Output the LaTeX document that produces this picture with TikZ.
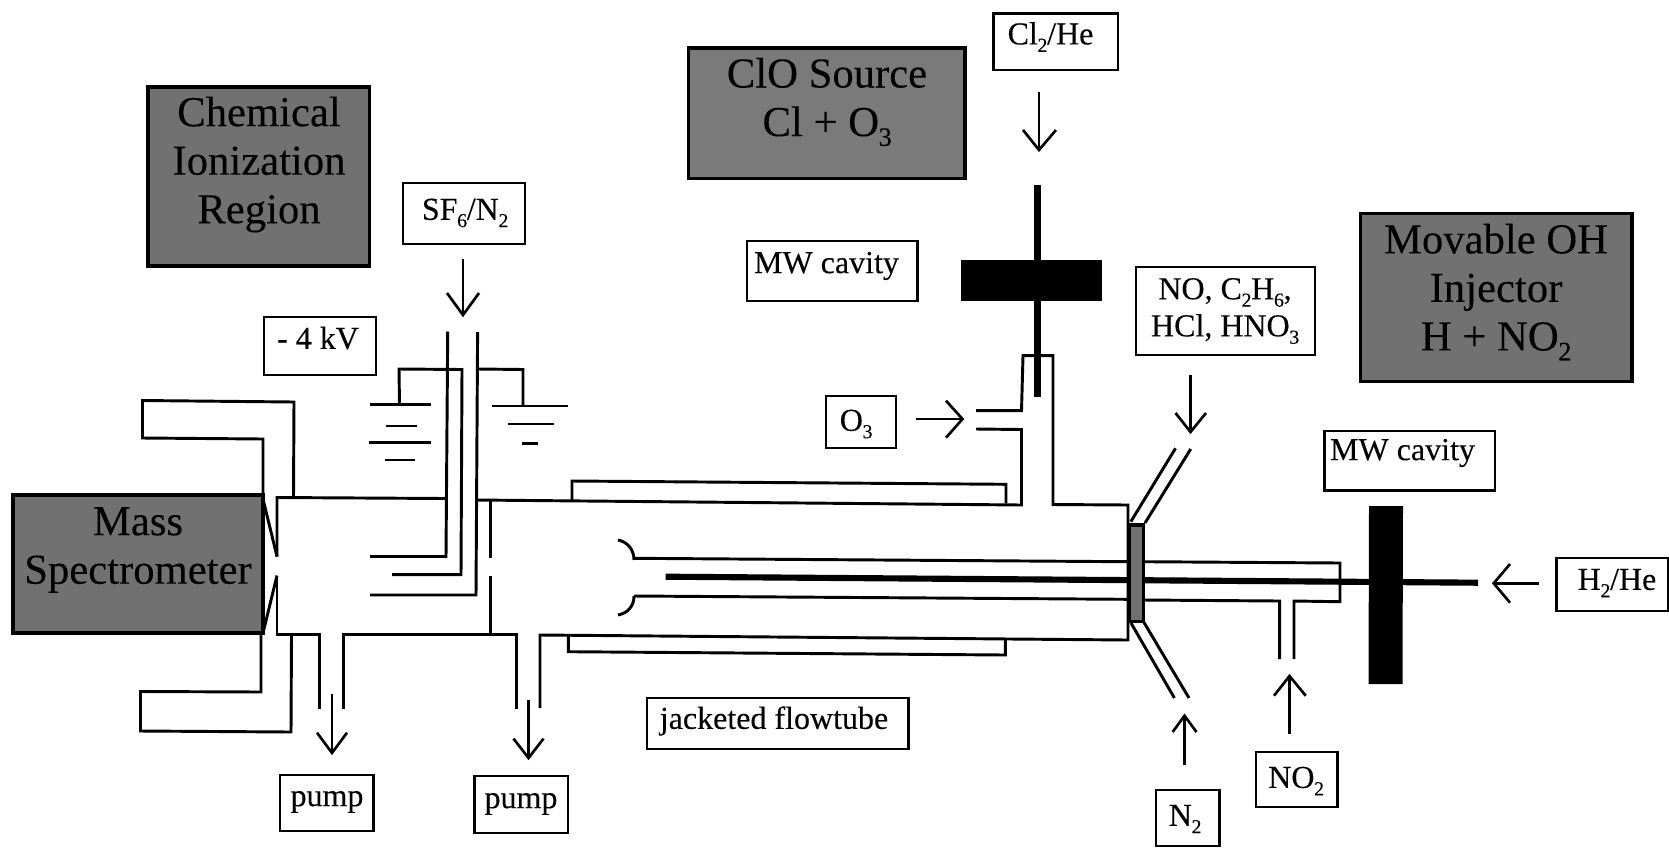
\documentclass[tikz,border=0pt]{standalone}
\usepackage{fontspec}
\usepackage{graphicx}
\setmainfont{Liberation Serif}[BoldFont={Liberation Serif},BoldFeatures={FakeBold=0.18}]
\definecolor{panel}{HTML}{717171}
\definecolor{panelb}{HTML}{7A7A7A}
\definecolor{ink}{HTML}{000000}
\newcommand{\chemsub}[1]{\kern-0.01em\raisebox{-0.23em}{\scalebox{0.62}{#1}}\kern-0.01em}
\tikzset{
  wall/.style={draw=ink,line width=2.2pt,line join=miter},
  thin wall/.style={draw=ink,line width=1.9pt},
  rod/.style={draw=ink,line width=4.6pt},
  flow/.style={draw=ink,line width=2pt},
  head/.style={draw=ink,line width=2pt,line join=miter},
  lblbox/.style={draw=ink,line width=2.2pt,fill=white},
  graybox/.style={draw=ink,line width=2.4pt,fill=panel},
  lbl/.style={inner sep=0pt,text=ink,font=\fontsize{24}{27.8}\selectfont\bfseries,align=center},
  big/.style={inner sep=0pt,text=ink,font=\fontsize{32}{36.4}\selectfont\bfseries,align=center},
}
\begin{document}
\begin{tikzpicture}[x=0.75pt,y=-0.75pt]
\useasboundingbox (0,0) rectangle (1669,847);
\fill[white] (0,0) rectangle (1669,847);
% gray boxes
\draw[graybox] (148,87) rectangle (369.5,266);
\node[big] (chem) at (259,164.5) {Chemical\\Ionization\\Region};
\draw[graybox,fill=panelb] (688.5,48) rectangle (965,178.5);
\node[big] (clo) at (827,102) {ClO Source\\Cl + O\chemsub{3}};
\draw[graybox] (1360.5,213.5) rectangle (1632,381.5);
\node[big] (mov) at (1496,292) {Movable OH\\Injector\\H + NO\chemsub{2}};
\draw[graybox] (13,495) rectangle (263,633);
\node[big] (ms) at (138,550) {Mass\\Spectrometer};
% label boxes
\draw[lblbox] (264,317) rectangle (376,375);
\node[lbl] (kv) at (318,338) {- 4 kV};
\draw[lblbox] (403,183) rectangle (525,244);
\node[lbl] (sf) at (465,213) {SF\chemsub{6}/N\chemsub{2}};
\draw[lblbox] (993.5,13.5) rectangle (1118,70);
\node[lbl] (cl) at (1050.5,37) {Cl\chemsub{2}/He};
\draw[lblbox] (747,241) rectangle (917.5,301);
\node[lbl] (mwa) at (826.5,266) {MW cavity};
\draw[lblbox] (1136,267) rectangle (1315,355);
\node[lbl] (no) at (1225,311) {NO, C\chemsub{2}H\chemsub{6},\\HCl, HNO\chemsub{3}};
\draw[lblbox] (1324.5,431) rectangle (1495,490.5);
\node[lbl] (mwb) at (1402.5,453) {MW cavity};
\draw[lblbox] (826,396) rectangle (896,448);
\node[lbl] (ozone) at (856,424) {O\chemsub{3}};
\draw[lblbox] (280,775) rectangle (373.5,831);
\node[lbl] (p1) at (327,802) {pump};
\draw[lblbox] (474.5,776) rectangle (568,833);
\node[lbl] (p2) at (521,804) {pump};
\draw[lblbox] (647,698) rectangle (908.5,749);
\node[lbl] (jf) at (774,721) {jacketed flowtube};
\draw[lblbox] (1256,752) rectangle (1337.5,807);
\node[lbl] (no2) at (1296,781) {NO\chemsub{2}};
\draw[lblbox] (1156,790) rectangle (1219.5,846);
\node[lbl] (n2) at (1185,819) {N\chemsub{2}};
\draw[lblbox] (1556.5,558) rectangle (1668,611);
\node[lbl] (h2) at (1617,583) {H\chemsub{2}/He};
% brackets at mass spectrometer
\draw[wall] (263,495) -- (263,439) -- (142.5,438) -- (142.5,400.5) -- (294,402) -- (293.5,497);
\draw[wall] (261,634) -- (261,692) -- (140.5,691.5) -- (140.5,731) -- (291,732) -- (291.5,635);
% first chamber
\draw[wall] (277,556.5) -- (277,497.5) -- (446,498.5);
\draw[wall] (263,499) -- (277,556.5);
\draw[wall] (277,575.5) -- (277,634.5) -- (319.5,634.5) -- (319.5,709);
\draw[wall] (263,633) -- (277,575.5);
\draw[wall] (343.6,709) -- (343.6,634.5) -- (516.6,634.5) -- (516.6,709);
\draw[wall] (540,708) -- (540,635) -- (1128,640) -- (1128,505) -- (1053,504.5) -- (1053,355.7) -- (1023,355.7) -- (1021.5,410.7) -- (976,410.7);
\draw[wall] (976,429) -- (1021.5,429.5) -- (1021.5,505) -- (476,500);
% electrodes
\draw[wall] (447.7,331.5) -- (446,556.5) -- (370,556.5);
\draw[wall] (392,574.6) -- (461,574.6) -- (462,369.5) -- (399,369) -- (399.5,405);
\draw[wall] (477.6,332) -- (476,595) -- (370,595);
\draw[wall] (478,369) -- (523,369.5) -- (523,406);
% partition
\draw[wall] (490.6,500.6) -- (490.6,558);
\draw[wall] (490.6,575.6) -- (490.6,634.5);
% batteries and grounds
\draw[thin wall] (370,404.7) -- (431,404.7);
\draw[thin wall] (386,426) -- (417,426);
\draw[thin wall] (369,442.4) -- (431,442.4);
\draw[thin wall] (385,459.8) -- (415,459.8);
\draw[thin wall] (492,406) -- (568,406);
\draw[thin wall] (508,424) -- (554,424);
\draw[thin wall] (522,443.4) -- (538,443.4);
% jacket
\draw[wall] (572,500) -- (572,481) -- (1006,484.3) -- (1006,503.3);
\draw[wall] (568.4,636) -- (568.4,651.7) -- (1005.4,655) -- (1005.4,640);
% injector
\draw[wall] (634,558.3) -- (1128,561.7);
\draw[wall] (634,596) -- (1128,599.3);
\draw[wall] (618,540) .. controls (628,542) and (634,550) .. (634,560);
\draw[wall] (618,615) .. controls (628,613) and (634,606) .. (634,596);
\draw[rod] (665.6,576.7) -- (1478,582.7);
\draw[wall] (1143.5,561.7) -- (1340,563) -- (1340,601.7) -- (1294,601) -- (1294,659);
\draw[wall] (1143.5,600) -- (1279.6,601) -- (1279.6,659);
% flange and angled inlets
\draw[wall] (1130.8,521.7) -- (1175.5,448.3);
\draw[wall] (1145,523) -- (1190.7,449);
\draw[wall] (1131,623) -- (1174.4,698);
\draw[wall] (1143.5,621.7) -- (1189,698);
\draw[draw=ink,line width=2.4pt,fill=panel] (1129,525) rectangle (1143.5,621.7);
% cavities
\draw[rod] (1037.5,185) -- (1037.5,397);
\fill[ink] (961,260) rectangle (1102,301);
\fill[ink] (1369,506) -- (1403,506) -- (1402.5,684) -- (1368.5,684) -- cycle;
% arrows
\draw[flow] (463,259) -- (463,315);
\draw[head] (447,293) -- (463,315) -- (479,293);
\draw[flow] (1039,92) -- (1039,150);
\draw[head] (1023,130) -- (1039,150) -- (1056,130);
\draw[flow] (1190.5,375) -- (1190.5,432);
\draw[head] (1175.5,413) -- (1190.5,432) -- (1206,413);
\draw[flow] (915.5,419) -- (962.5,419);
\draw[head] (946,400.7) -- (962.5,419) -- (946,437.7);
\draw[flow] (332,694.3) -- (332,752.9);
\draw[head] (317,732.7) -- (332,752.9) -- (347,732.7);
\draw[flow] (528.5,700) -- (528.5,758);
\draw[head] (513.5,738.6) -- (528.5,758) -- (543.5,738.6);
\draw[flow] (1289.5,734) -- (1289.5,676);
\draw[head] (1274,695.7) -- (1289.5,676) -- (1305.7,695.7);
\draw[flow] (1184.5,765) -- (1184.5,715.7);
\draw[head] (1172.6,732) -- (1184.5,715.7) -- (1196.5,732);
\draw[flow] (1539,583.3) -- (1493.7,583.3);
\draw[head] (1510,564) -- (1493.7,583.3) -- (1510,602.7);
\end{tikzpicture}
\end{document}
